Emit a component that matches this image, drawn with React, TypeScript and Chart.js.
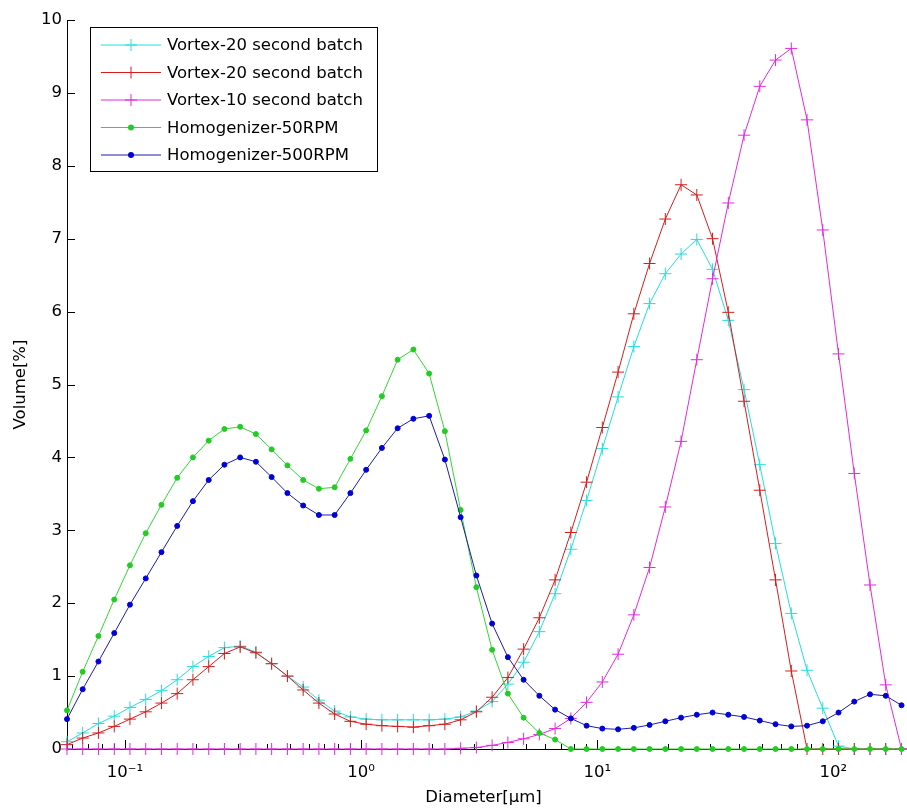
import React, { useEffect, useRef } from 'react';
import { Chart, registerables } from 'chart.js';

Chart.register(...registerables);

// Particle diameter bins [µm]
const diameters = [
  0.0569, 0.0663, 0.0773, 0.0902, 0.1051, 0.1226, 0.1429, 0.1666, 0.1942, 0.2265,
  0.264, 0.3078, 0.3589, 0.4184, 0.4879, 0.5689, 0.6632, 0.7733, 0.9016, 1.0512,
  1.2256, 1.4289, 1.666, 1.9424, 2.2646, 2.6403, 3.0784, 3.5892, 4.1847, 4.879,
  5.6885, 6.6324, 7.7327, 9.0157, 10.512, 12.256, 14.289, 16.66, 19.424, 22.646,
  26.403, 30.784, 35.892, 41.847, 48.79, 56.885, 66.324, 77.327, 90.157, 105.12,
  122.56, 142.89, 166.6, 194.24,
];

const vortex20a = [
  0.10, 0.22, 0.35, 0.45, 0.57, 0.68, 0.80, 0.95, 1.13, 1.27,
  1.39, 1.41, 1.33, 1.17, 1.00, 0.85, 0.67, 0.52, 0.44, 0.41,
  0.40, 0.40, 0.40, 0.40, 0.41, 0.44, 0.52, 0.65, 0.89, 1.19,
  1.61, 2.13, 2.74, 3.41, 4.12, 4.83, 5.52, 6.11, 6.52, 6.79,
  6.99, 6.58, 5.88, 4.93, 3.90, 2.82, 1.86, 1.08, 0.56, 0.04,
  0, 0, 0, 0,
];

const vortex20b = [
  0.06, 0.15, 0.22, 0.31, 0.41, 0.51, 0.63, 0.76, 0.95, 1.13,
  1.31, 1.40, 1.32, 1.17, 1.00, 0.81, 0.63, 0.48, 0.38, 0.34,
  0.32, 0.31, 0.30, 0.32, 0.34, 0.40, 0.51, 0.71, 0.98, 1.37,
  1.80, 2.32, 2.97, 3.66, 4.41, 5.17, 5.97, 6.66, 7.27, 7.74,
  7.60, 7.00, 5.99, 4.77, 3.55, 2.32, 1.07, 0, 0, 0,
  0, 0, 0, 0,
];

const vortex10 = [
  0, 0, 0, 0, 0, 0, 0, 0, 0, 0,
  0, 0, 0, 0, 0, 0, 0, 0, 0, 0,
  0, 0, 0, 0, 0, 0.01, 0.02, 0.05, 0.09, 0.14,
  0.20, 0.28, 0.42, 0.64, 0.92, 1.30, 1.84, 2.49, 3.32, 4.22,
  5.34, 6.45, 7.49, 8.42, 9.09, 9.45, 9.61, 8.63, 7.12, 5.42,
  3.78, 2.25, 0.88, 0,
];

const homog50 = [
  0.53, 1.06, 1.55, 2.05, 2.52, 2.96, 3.35, 3.72, 4.00, 4.23,
  4.39, 4.42, 4.32, 4.11, 3.89, 3.69, 3.57, 3.59, 3.98, 4.37,
  4.84, 5.34, 5.48, 5.15, 4.36, 3.28, 2.22, 1.36, 0.76, 0.43,
  0.22, 0.13, 0, 0, 0, 0, 0, 0, 0, 0,
  0, 0, 0, 0, 0, 0, 0, 0, 0, 0,
  0, 0, 0, 0,
];

const homog500 = [
  0.41, 0.82, 1.20, 1.59, 1.98, 2.34, 2.70, 3.06, 3.40, 3.69,
  3.90, 4.00, 3.94, 3.73, 3.51, 3.34, 3.21, 3.21, 3.51, 3.83,
  4.13, 4.40, 4.53, 4.57, 3.97, 3.18, 2.38, 1.72, 1.26, 0.95,
  0.73, 0.54, 0.42, 0.32, 0.28, 0.27, 0.29, 0.33, 0.38, 0.43,
  0.47, 0.50, 0.47, 0.44, 0.39, 0.34, 0.31, 0.32, 0.38, 0.50,
  0.65, 0.75, 0.73, 0.60,
];

const seriesLabels = [
  'Vortex-20 second batch',
  'Vortex-20 second batch',
  'Vortex-10 second batch',
  'Homogenizer-50RPM',
  'Homogenizer-500RPM',
];

const xMajorTicks = [0.1, 1, 10, 100];
const xTickLabels = ['10⁻¹', '10⁰', '10¹', '10²'];
const xMinorTicks = [
  0.06, 0.07, 0.08, 0.09,
  0.2, 0.3, 0.4, 0.5, 0.6, 0.7, 0.8, 0.9,
  2, 3, 4, 5, 6, 7, 8, 9,
  20, 30, 40, 50, 60, 70, 80, 90,
];
const yTicks = [0, 1, 2, 3, 4, 5, 6, 7, 8, 9, 10];

const FONT_FAMILY = "'DejaVu Sans', 'Liberation Sans', Arial, sans-serif";
const FONT_SIZE = 16.5;

const styles = [
  { line: '#22dede', point: '#22dede', shape: 'cross', r: 6 },
  { line: '#d81c1c', point: '#d81c1c', shape: 'cross', r: 6 },
  { line: '#e02ae0', point: '#e02ae0', shape: 'cross', r: 6 },
  { line: '#30d830', point: '#22cc22', shape: 'circle', r: 2.5 },
  { line: '#1c1ca8', point: '#0000d8', shape: 'circle', r: 2.5 },
];

const seriesValues = [vortex20a, vortex20b, vortex10, homog50, homog500];

const axesPlugin = {
  id: 'matlabTicks',
  beforeDatasetsDraw(chart: any) {
    const { ctx, chartArea, scales } = chart;
    const xs = scales.x;
    const ys = scales.y;
    ctx.save();
    ctx.strokeStyle = '#000';
    ctx.lineWidth = 1;
    ctx.beginPath();
    for (const v of yTicks) {
      const y = Math.round(ys.getPixelForValue(v)) + 0.5;
      ctx.moveTo(chartArea.left, y);
      ctx.lineTo(chartArea.left + 8, y);
    }
    const b = chartArea.bottom;
    for (const v of xMajorTicks) {
      const x = Math.round(xs.getPixelForValue(v)) + 0.5;
      ctx.moveTo(x, b);
      ctx.lineTo(x, b - 9);
    }
    for (const v of xMinorTicks) {
      if (v < xs.min || v > xs.max) continue;
      const x = Math.round(xs.getPixelForValue(v)) + 0.5;
      ctx.moveTo(x, b);
      ctx.lineTo(x, b - 5);
    }
    ctx.stroke();
    ctx.restore();
  },
};

const legendPlugin = {
  id: 'matlabLegend',
  afterDraw(chart: any) {
    const { ctx } = chart;
    const left = 90.5;
    const top = 27.5;
    const w = 287;
    const h = 144;
    ctx.save();
    ctx.fillStyle = '#fff';
    ctx.fillRect(left, top, w, h);
    ctx.strokeStyle = '#000';
    ctx.lineWidth = 1;
    ctx.strokeRect(left, top, w, h);
    chart.data.datasets.forEach((ds: any, k: number) => {
      const st = styles[k];
      const y = 45 + k * 27.5;
      ctx.strokeStyle = st.line;
      ctx.lineWidth = 1;
      ctx.beginPath();
      ctx.moveTo(101, y);
      ctx.lineTo(161, y);
      ctx.stroke();
      if (st.shape === 'cross') {
        ctx.strokeStyle = st.point;
        ctx.beginPath();
        ctx.moveTo(131, y - st.r);
        ctx.lineTo(131, y + st.r);
        ctx.moveTo(131 - st.r, y);
        ctx.lineTo(131 + st.r, y);
        ctx.stroke();
      } else {
        ctx.fillStyle = st.point;
        ctx.beginPath();
        ctx.arc(131, y, st.r + 0.5, 0, Math.PI * 2);
        ctx.fill();
      }
      ctx.fillStyle = '#000';
      ctx.font = `${FONT_SIZE}px ${FONT_FAMILY}`;
      ctx.textBaseline = 'middle';
      ctx.textAlign = 'left';
      ctx.fillText(ds.label, 167, y + 1);
    });
    ctx.restore();
  },
};

export default function App() {
  const canvasRef = useRef<HTMLCanvasElement | null>(null);

  useEffect(() => {
    const canvas = canvasRef.current;
    if (!canvas) return;
    const datasets = seriesValues.map((vals, k) => ({
      label: seriesLabels[k],
      data: diameters.map((d, i) => ({ x: d, y: vals[i] })),
      borderColor: styles[k].line,
      backgroundColor: styles[k].point,
      borderWidth: 1,
      pointStyle: styles[k].shape,
      pointRadius: styles[k].r,
      pointHoverRadius: styles[k].r,
      pointBorderColor: styles[k].point,
      pointBackgroundColor: styles[k].point,
      pointBorderWidth: 1,
      tension: 0,
      fill: false,
      clip: false,
      order: -k,
    }));

    const chart = new Chart(canvas, {
      type: 'line',
      data: { datasets },
      options: {
        animation: false,
        responsive: false,
        devicePixelRatio: 1,
        maintainAspectRatio: false,
        layout: { padding: { top: 20, right: 0, left: 0, bottom: 0 } },
        plugins: {
          legend: { display: false },
          tooltip: { enabled: false },
        },
        scales: {
          x: {
            type: 'logarithmic',
            position: 'bottom',
            min: diameters[0],
            max: 191.4,
            grid: { display: false, drawTicks: false },
            border: { display: true, color: '#000', width: 1 },
            afterBuildTicks: (scale: any) => {
              scale.ticks = xMajorTicks.map((v) => ({ value: v }));
            },
            afterFit: (scale: any) => {
              scale.height = 60;
            },
            ticks: {
              autoSkip: false,
              maxRotation: 0,
              padding: 14,
              color: '#000',
              font: { family: FONT_FAMILY, size: FONT_SIZE },
              callback: (value: any) => {
                const idx = xMajorTicks.findIndex((t) => Math.abs(t - Number(value)) < 1e-9 * t);
                return idx >= 0 ? xTickLabels[idx] : '';
              },
            },
            title: {
              display: true,
              text: 'Diameter[µm]',
              color: '#000',
              font: { family: FONT_FAMILY, size: FONT_SIZE },
              padding: { top: 0, bottom: 1 },
            },
          },
          y: {
            type: 'linear',
            position: 'left',
            min: 0,
            max: 10,
            grid: { display: false, drawTicks: false },
            border: { display: true, color: '#000', width: 1 },
            afterFit: (scale: any) => {
              scale.width = 67;
            },
            ticks: {
              stepSize: 1,
              padding: 5,
              color: '#000',
              font: { family: FONT_FAMILY, size: FONT_SIZE },
            },
            title: {
              display: true,
              text: 'Volume[%]',
              color: '#000',
              font: { family: FONT_FAMILY, size: FONT_SIZE },
              padding: { top: 11, bottom: 0 },
            },
          },
        },
      },
      plugins: [axesPlugin, legendPlugin],
    } as any);

    return () => {
      chart.destroy();
    };
  }, []);

  return (
    <div style={{ position: 'absolute', left: 0, top: 0, width: 907, height: 809, background: '#fff' }}>
      <canvas ref={canvasRef} width={907} height={809} style={{ display: 'block', width: 907, height: 809 }} />
    </div>
  );
}
